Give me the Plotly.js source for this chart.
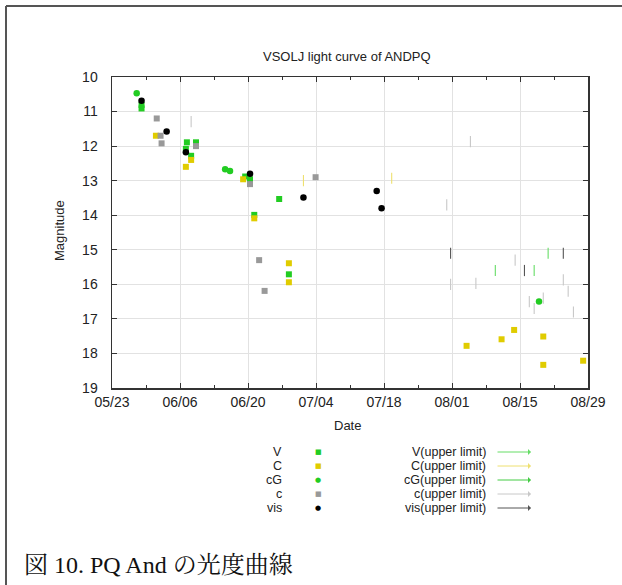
<!DOCTYPE html>
<html><head><meta charset="utf-8">
<script src="https://cdn.plot.ly/plotly-3.0.1.min.js"></script>
<style>html,body{margin:0;padding:0;background:#fff}#chart{width:622px;height:585px}</style>
</head><body><div id="chart"></div>
<script>
// ---- data ----
const seriesNames = ['V', 'C', 'cG', 'c', 'vis'];

const vDates = ['2008-05-29 02:00','2008-05-29 02:00','2008-06-07 10:00','2008-06-07 05:00','2008-06-08 07:00','2008-06-09 07:00','2008-06-19 10:00','2008-06-20 10:00','2008-06-21 07:00','2008-06-26 10:00','2008-06-28 10:00'];
const vMags  = [10.81, 10.91, 11.89, 12.08, 12.28, 11.89, 12.88, 12.96, 13.99, 13.53, 15.71];

const cDates = ['2008-06-01 01:00','2008-06-07 05:00','2008-06-08 07:00','2008-06-19 00:00','2008-06-21 07:00','2008-06-28 10:00','2008-06-28 10:00','2008-08-04 00:00','2008-08-11 05:00','2008-08-13 19:00','2008-08-19 19:00','2008-08-19 19:00','2008-08-28 00:00'];
const cMags  = [11.70, 12.60, 12.40, 12.96, 14.09, 15.39, 15.94, 17.78, 17.59, 17.32, 17.51, 18.33, 18.21];

const cgDates = ['2008-05-28 02:00','2008-06-15 07:00','2008-06-16 07:00','2008-08-18 22:00'];
const cgMags  = [10.47, 12.67, 12.72, 16.50];

const cuDates = ['2008-06-01 05:00','2008-06-02 00:00','2008-06-02 05:00','2008-06-09 07:00','2008-06-20 10:00','2008-06-22 07:00','2008-06-23 10:00','2008-07-03 22:00'];
const cuMags  = [11.20, 11.70, 11.92, 12.00, 13.10, 15.30, 16.19, 12.90];

const visDates = ['2008-05-29 02:00','2008-06-03 06:00','2008-06-07 05:00','2008-06-20 10:00','2008-07-01 10:00','2008-07-16 12:00','2008-07-17 12:00'];
const visMags  = [10.69, 11.58, 12.18, 12.80, 13.49, 13.30, 13.80];

// upper limits
const vUpDates = ['2008-08-09 22:00','2008-08-17 22:00','2008-08-20 19:00'];
const vUpMags  = [15.6, 15.6, 15.1];
const cUpDates = ['2008-07-01 10:00','2008-07-19 14:00'];
const cUpMags  = [13.0, 12.93];
const cgUpDates = [];
const cgUpMags  = [];
const cuUpDates = ['2008-06-08 07:00','2008-07-30 22:00','2008-08-04 19:00','2008-07-31 17:00','2008-08-05 22:00','2008-08-14 00:00','2008-08-23 22:00','2008-08-24 22:00','2008-08-26 00:00','2008-08-16 22:00','2008-08-17 22:00','2008-08-19 19:00'];
const cuUpMags  = [11.29, 13.7, 11.87, 16.0, 15.97, 15.3, 15.87, 16.2, 16.8, 16.5, 16.7, 16.4];
const visUpDates = ['2008-07-31 17:00','2008-08-15 22:00','2008-08-23 22:00'];
const visUpMags  = [15.1, 15.6, 15.1];

const xTickStart = '2008-05-23';
const xRangeEnd = '2008-08-29';

// ---- styles ----
const colors   = {V:'#22cc22', C:'#e0cc00', cG:'#22cc22', c:'#999999', vis:'#000000'};
const upColors = {V:'#66dd66', C:'#eee070', cG:'#44cc44', c:'#c8c8c8', vis:'#555555'};
const symbols  = {V:'square', C:'square', cG:'circle', c:'square', vis:'circle'};

const obs = {V:[vDates,vMags], C:[cDates,cMags], cG:[cgDates,cgMags], c:[cuDates,cuMags], vis:[visDates,visMags]};
const ups = {V:[vUpDates,vUpMags], C:[cUpDates,cUpMags], cG:[cgUpDates,cgUpMags], c:[cuUpDates,cuUpMags], vis:[visUpDates,visUpMags]};

const traces = [];
seriesNames.forEach(n => {
  traces.push({x: ups[n][0], y: ups[n][1], type:'scatter', mode:'markers', name: n+'(upper limit)', showlegend:false,
    marker:{symbol:'line-ns-open', size:8, color:upColors[n], line:{color:upColors[n], width:1.1}}, cliponaxis:true});
});
seriesNames.forEach(n => {
  traces.push({x: obs[n][0], y: obs[n][1], type:'scatter', mode:'markers', name:n, showlegend:false,
    marker:{symbol:symbols[n], size: symbols[n]==='circle'?6.5:6, color:colors[n], line:{width:0}}});
});

// layout helpers: pixel -> paper
const L=112, T=77, W=476, H=311;
const px = x => (x-L)/W;
const py = y => (T+H-y)/H;

const font = {family:'Liberation Sans, Arial, sans-serif', size:13, color:'#222'};
const tickFont = {family:'Liberation Sans, Arial, sans-serif', size:14, color:'#222'};
const legFont = {family:'Liberation Sans, Arial, sans-serif', size:12.5, color:'#222'};
const annotations = [];
annotations.push({text:'VSOLJ light curve of ANDPQ', xref:'paper', yref:'paper', x:px(347), y:py(57), showarrow:false, font:font, xanchor:'center', yanchor:'middle'});
annotations.push({text:'Date', xref:'paper', yref:'paper', x:px(347), y:py(425), showarrow:false, font:font, xanchor:'center', yanchor:'middle'});
annotations.push({text:'Magnitude', xref:'paper', yref:'paper', x:px(59), y:py(231), showarrow:false, font:font, textangle:-90, xanchor:'center', yanchor:'middle'});

const rowY = [452, 466, 480, 494, 508];
seriesNames.forEach((n,i) => {
  annotations.push({text:n, xref:'paper', yref:'paper', x:px(284), y:py(rowY[i]), showarrow:false, font:legFont, xanchor:'right', yanchor:'middle'});
  annotations.push({text: symbols[n]==='circle' ? '●' : '■', xref:'paper', yref:'paper', x:px(318), y:py(rowY[i]), showarrow:false,
    font:{family:'DejaVu Sans', size:7, color:colors[n]}, xanchor:'center', yanchor:'middle'});
  annotations.push({text:n+'(upper limit)', xref:'paper', yref:'paper', x:px(488), y:py(rowY[i]), showarrow:false, font:legFont, xanchor:'right', yanchor:'middle'});
  annotations.push({text:'', xref:'paper', yref:'paper', x:px(531), y:py(rowY[i]), ax:-35, ay:0, axref:'pixel', ayref:'pixel', showarrow:true,
    arrowhead:1, arrowsize:1, arrowwidth:1, arrowcolor:upColors[n], standoff:0, startstandoff:0});
});
annotations.push({text:'図 10. PQ And の光度曲線', xref:'paper', yref:'paper', x:px(22), y:py(565), showarrow:false,
  font:{family:'Liberation Serif, Noto Serif CJK JP, Noto Sans CJK JP, serif', size:24, color:'#111'}, xanchor:'left', yanchor:'middle'});

const frame = {color:'#555', width:2};
const shapes = [
  {type:'line', xref:'paper', yref:'paper', x0:px(6), x1:px(640), y0:py(6), y1:py(6), line:frame},
  {type:'line', xref:'paper', yref:'paper', x0:px(6), x1:px(6), y0:py(6), y1:py(600), line:frame}
];

const DAY = 86400000;
const layout = {
  width:622, height:585,
  margin:{l:L, r:622-L-W, t:T, b:585-T-H, pad:0},
  paper_bgcolor:'#fff', plot_bgcolor:'#fff',
  showlegend:false,
  font:font,
  xaxis:{type:'date', range:[xTickStart, xRangeEnd], tick0:xTickStart, dtick:14*DAY, tickformat:'%m/%d',
    ticks:'inside', ticklen:5, tickcolor:'#333', showline:true, linecolor:'#333', linewidth:1.5, mirror:'ticks',
    showgrid:true, gridcolor:'#e2e2e2', gridwidth:1, zeroline:false, tickfont:tickFont, ticklabelstandoff:1,
    minor:{tick0:xTickStart, dtick:7*DAY, ticks:'inside', ticklen:3, tickcolor:'#333', showgrid:false}},
  yaxis:{range:[19,10], tick0:10, dtick:1, ticks:'inside', ticklen:5, tickcolor:'#333', showline:true, linecolor:'#333', linewidth:1.5,
    mirror:'ticks', showgrid:true, gridcolor:'#e2e2e2', gridwidth:1, zeroline:false, tickfont:tickFont, ticklabelstandoff:10},
  annotations:annotations,
  shapes:shapes
};

Plotly.newPlot('chart', traces, layout, {staticPlot:true, displayModeBar:false});
</script>
</body></html>
